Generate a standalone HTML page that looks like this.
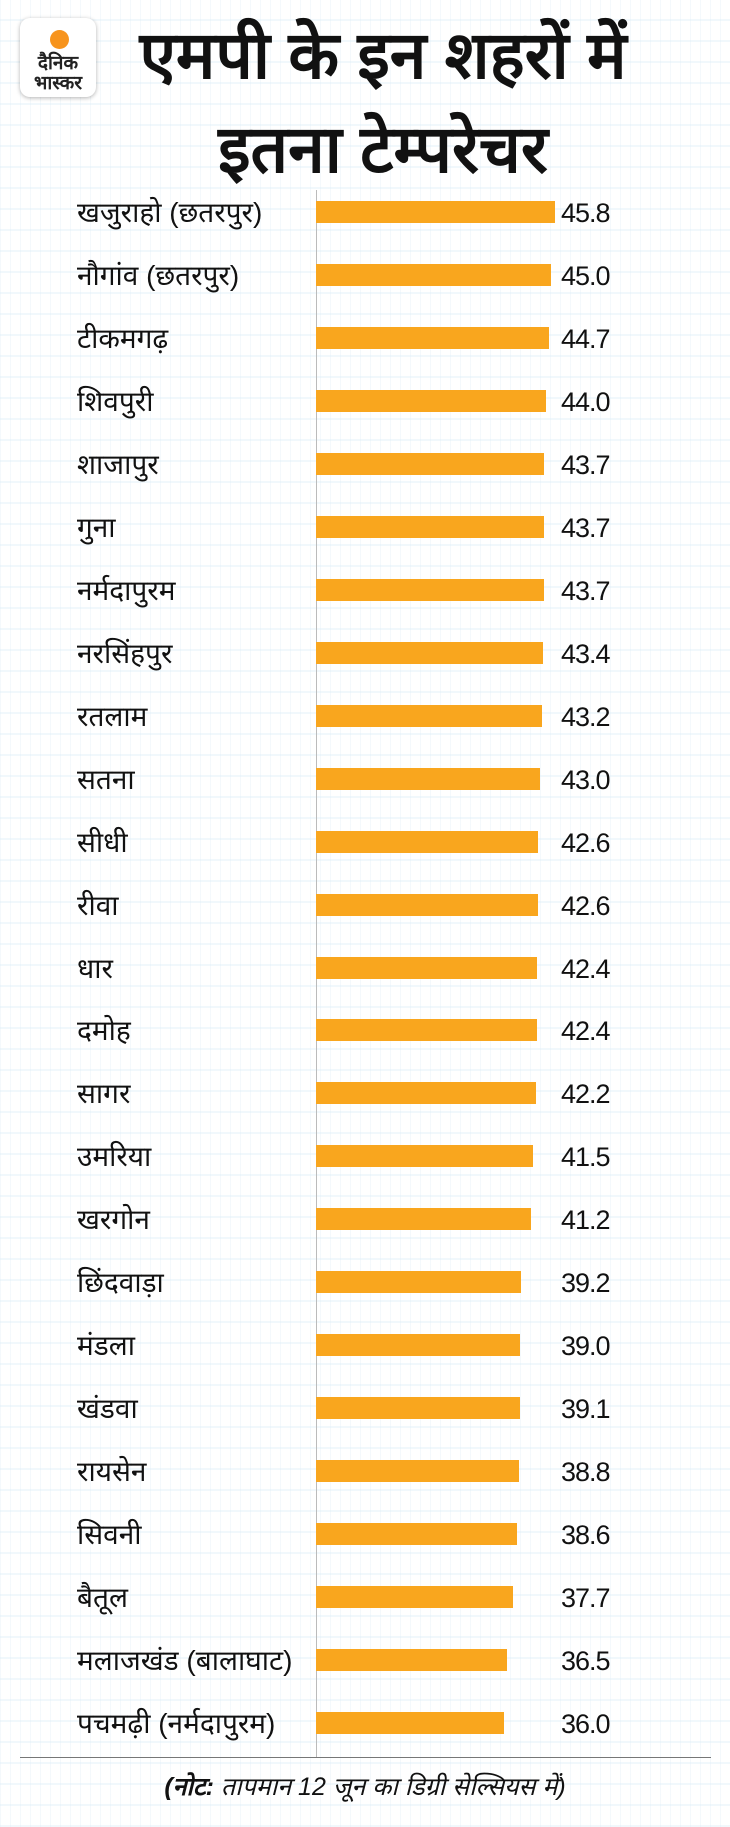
<!DOCTYPE html>
<html><head><meta charset="utf-8"><style>
*{margin:0;padding:0;box-sizing:border-box}
body{width:730px;height:1827px;position:relative;overflow:hidden;background:#fff;
background-image:linear-gradient(90deg,rgba(210,230,242,.25) 1px,transparent 1px),linear-gradient(0deg,rgba(215,235,246,.35) 2px,transparent 2px);
background-size:10px 10px,100% 21px;font-family:"Liberation Sans","Noto Sans CJK SC",sans-serif;color:#111}
.logo{position:absolute;left:20px;top:18px;width:76px;height:79px;background:#fff;border-radius:10px;box-shadow:0 1px 4px rgba(0,0,0,.3)}
.logo .dot{position:absolute;left:30px;top:12px;width:19px;height:19px;border-radius:50%;background:#f7941d}
.logo .t{position:absolute;left:0;width:76px;text-align:center;font-weight:bold;font-size:19px;line-height:19px;color:#222}
.title{position:absolute;left:73px;width:620px;text-align:center;font-weight:bold;font-size:66px;line-height:70px;color:#111}
.lab{position:absolute;left:77px;font-size:28px;line-height:32px;white-space:nowrap}
.bar{position:absolute;left:316px;height:22px;background:#f9a61e}
.val{position:absolute;left:561px;font-size:27px;line-height:30px;letter-spacing:-1px}
.axis{position:absolute;left:316px;top:190px;width:1px;height:1568px;background:#bbb}
.base{position:absolute;left:20px;top:1757px;width:691px;height:1px;background:#777}
.note{position:absolute;left:0;width:730px;top:1772px;text-align:center;font-size:25px;font-style:italic;line-height:30px}
</style></head><body>
<div class="logo"><div class="dot"></div><div class="t" style="top:36px">दैनिक</div><div class="t" style="top:56px">भास्कर</div></div>
<div class="title" style="top:20px">एमपी के इन शहरों में</div>
<div class="title" style="top:114px">इतना टेम्परेचर</div>
<div class="axis"></div>
<div id="rows"></div>
<div class="base"></div>
<div class="note"><b>(नोट:</b> तापमान 12 जून का डिग्री सेल्सियस में)</div>
<script>
var d=[["खजुराहो (छतरपुर)","45.8"],["नौगांव (छतरपुर)","45.0"],["टीकमगढ़","44.7"],["शिवपुरी","44.0"],["शाजापुर","43.7"],["गुना","43.7"],["नर्मदापुरम","43.7"],["नरसिंहपुर","43.4"],["रतलाम","43.2"],["सतना","43.0"],["सीधी","42.6"],["रीवा","42.6"],["धार","42.4"],["दमोह","42.4"],["सागर","42.2"],["उमरिया","41.5"],["खरगोन","41.2"],["छिंदवाड़ा","39.2"],["मंडला","39.0"],["खंडवा","39.1"],["रायसेन","38.8"],["सिवनी","38.6"],["बैतूल","37.7"],["मलाजखंड (बालाघाट)","36.5"],["पचमढ़ी (नर्मदापुरम)","36.0"]];
var h="";for(var i=0;i<d.length;i++){var c=212+i*62.96;
h+='<div class="lab" style="top:'+(c-15)+'px">'+d[i][0]+'</div><div class="bar" style="top:'+(c-11)+'px;width:'+(parseFloat(d[i][1])*5.22)+'px"></div><div class="val" style="top:'+(c-14)+'px">'+d[i][1]+'</div>';}
document.getElementById("rows").innerHTML=h;
</script>
</body></html>
